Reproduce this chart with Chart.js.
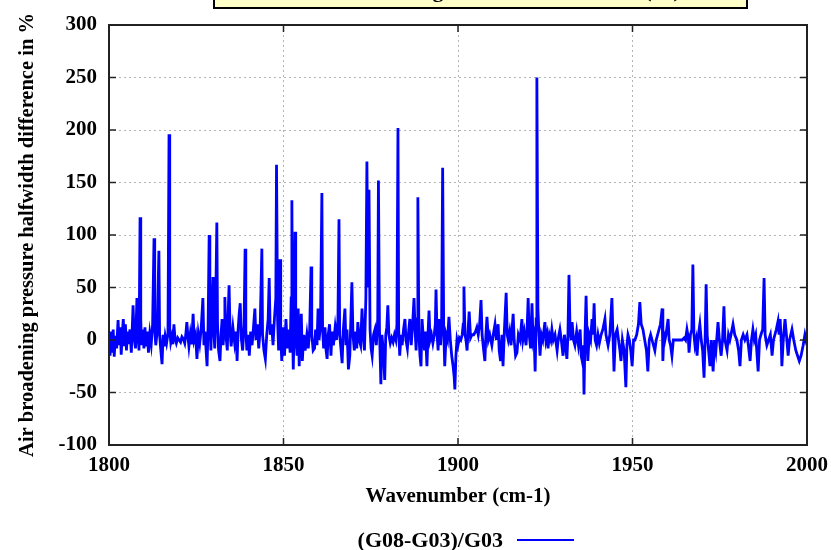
<!DOCTYPE html>
<html>
<head>
<meta charset="utf-8">
<script src="https://cdn.jsdelivr.net/npm/chart.js@4/dist/chart.umd.min.js"></script>
<style>
  html, body { margin: 0; padding: 0; background: #fff; }
  #wrap { width: 831px; height: 550px; position: relative; }
</style>
</head>
<body>
<div id="wrap"><canvas id="diffChart" width="831" height="550"></canvas></div>
<script>
// values (wavenumber cm-1 / difference %)
const wavenumber = [
  1800.0, 1800.3, 1800.6, 1800.9, 1801.2, 1801.5, 1801.8, 1802.2, 1802.6, 1802.9,
  1803.2, 1803.5, 1803.8, 1804.1, 1804.4, 1804.7, 1805.0, 1805.3, 1805.6, 1806.0,
  1806.4, 1806.9, 1807.2, 1807.6, 1808.0, 1808.3, 1808.6, 1808.9, 1809.1, 1809.3,
  1809.7, 1810.0, 1810.3, 1810.6, 1811.0, 1811.3, 1811.7, 1812.1, 1812.5, 1812.9,
  1813.1, 1813.4, 1813.8, 1814.3, 1814.5, 1814.8, 1815.2, 1815.5, 1815.8, 1816.1,
  1816.5, 1816.9, 1817.2, 1817.4, 1817.7, 1818.0, 1818.3, 1818.6, 1818.9, 1819.3,
  1819.7, 1820.1, 1820.5, 1820.9, 1821.3, 1821.7, 1822.0, 1822.3, 1822.6, 1822.9,
  1823.3, 1823.7, 1824.1, 1824.4, 1824.8, 1825.2, 1825.6, 1826.0, 1826.4, 1826.9,
  1827.2, 1827.5, 1828.1, 1828.4, 1828.7, 1828.9, 1829.2, 1829.5, 1829.8, 1830.0,
  1830.3, 1830.6, 1830.9, 1831.1, 1831.4, 1831.8, 1832.1, 1832.4, 1832.7, 1833.0,
  1833.2, 1833.5, 1833.9, 1834.2, 1834.4, 1834.7, 1835.0, 1835.5, 1836.0, 1836.4,
  1836.7, 1837.0, 1837.3, 1837.6, 1837.9, 1838.3, 1838.7, 1839.0, 1839.2, 1839.5,
  1839.9, 1840.2, 1840.6, 1841.0, 1841.4, 1841.8, 1842.1, 1842.5, 1842.9, 1843.3,
  1843.8, 1844.0, 1844.4, 1844.8, 1845.2, 1845.6, 1845.9, 1846.2, 1846.6, 1847.0,
  1847.4, 1847.8, 1848.0, 1848.3, 1848.6, 1849.0, 1849.2, 1849.5, 1849.9, 1850.3,
  1850.7, 1851.1, 1851.5, 1851.9, 1852.2, 1852.4, 1852.6, 1852.8, 1853.1, 1853.3,
  1853.5, 1853.9, 1854.2, 1854.5, 1854.8, 1855.1, 1855.4, 1855.8, 1856.2, 1856.7,
  1857.1, 1857.5, 1857.9, 1858.1, 1858.5, 1858.9, 1859.2, 1859.6, 1859.9, 1860.2,
  1860.6, 1861.0, 1861.2, 1861.5, 1861.9, 1862.2, 1862.5, 1862.8, 1863.2, 1863.6,
  1863.9, 1864.3, 1864.8, 1865.2, 1865.6, 1865.9, 1866.1, 1866.5, 1866.8, 1867.1,
  1867.6, 1867.9, 1868.2, 1868.6, 1869.0, 1869.3, 1869.6, 1869.9, 1870.3, 1870.7,
  1871.0, 1871.3, 1871.7, 1872.1, 1872.5, 1872.8, 1873.2, 1873.6, 1873.9, 1874.2,
  1874.5, 1874.8, 1875.1, 1875.4, 1875.8, 1876.2, 1876.6, 1877.0, 1877.2, 1877.5,
  1877.9, 1878.2, 1878.6, 1879.0, 1879.3, 1879.6, 1879.9, 1880.2, 1880.6, 1881.0,
  1881.4, 1881.8, 1882.2, 1882.5, 1882.8, 1883.0, 1883.3, 1883.7, 1884.0, 1884.4,
  1884.8, 1885.1, 1885.5, 1885.9, 1886.2, 1886.6, 1887.0, 1887.4, 1887.7, 1888.0,
  1888.3, 1888.5, 1888.8, 1889.1, 1889.4, 1889.7, 1890.0, 1890.4, 1890.7, 1891.1,
  1891.4, 1891.7, 1892.0, 1892.4, 1892.8, 1893.2, 1893.5, 1893.7, 1894.0, 1894.3,
  1894.6, 1895.0, 1895.3, 1895.6, 1895.9, 1896.2, 1896.6, 1897.0, 1897.4, 1897.8,
  1898.2, 1898.6, 1898.9, 1899.1, 1899.4, 1899.7, 1900.0, 1900.4, 1900.8, 1901.2,
  1901.5, 1901.7, 1902.0, 1902.3, 1902.6, 1902.9, 1903.2, 1903.6, 1904.0, 1904.5,
  1905.0, 1905.4, 1905.8, 1906.2, 1906.6, 1906.9, 1907.3, 1907.7, 1908.0, 1908.3,
  1908.7, 1909.1, 1909.7, 1910.1, 1910.6, 1911.0, 1911.5, 1911.8, 1912.2, 1912.6,
  1912.9, 1913.3, 1913.8, 1914.1, 1914.4, 1914.8, 1915.2, 1915.8, 1916.1, 1916.5,
  1916.9, 1917.3, 1917.8, 1918.3, 1918.6, 1919.0, 1919.5, 1919.8, 1920.1, 1920.4,
  1920.8, 1921.2, 1921.5, 1921.8, 1922.1, 1922.4, 1922.6, 1922.9, 1923.2, 1923.5,
  1923.9, 1924.3, 1924.9, 1925.2, 1925.5, 1925.8, 1926.2, 1926.6, 1926.9, 1927.3,
  1927.8, 1928.4, 1928.8, 1929.2, 1929.6, 1930.1, 1930.5, 1930.9, 1931.2, 1931.5,
  1931.8, 1932.1, 1932.4, 1932.7, 1933.1, 1933.5, 1934.0, 1934.5, 1935.0, 1935.3,
  1935.6, 1935.9, 1936.1, 1936.4, 1936.7, 1937.0, 1937.2, 1937.6, 1938.0, 1938.4,
  1938.7, 1939.0, 1939.3, 1939.7, 1940.1, 1940.5, 1941.0, 1941.5, 1942.1, 1942.4,
  1943.0, 1943.5, 1944.1, 1944.4, 1944.7, 1945.1, 1945.6, 1946.0, 1946.4, 1946.7,
  1947.1, 1947.6, 1948.1, 1948.4, 1948.7, 1949.1, 1949.5, 1949.9, 1950.3, 1950.7,
  1951.2, 1951.7, 1952.1, 1952.5, 1953.0, 1953.5, 1954.0, 1954.4, 1954.8, 1955.2,
  1955.6, 1956.0, 1956.4, 1956.8, 1957.2, 1957.6, 1958.0, 1958.5, 1958.7, 1959.0,
  1959.3, 1959.6, 1960.2, 1960.5, 1960.9, 1961.3, 1961.7, 1962.1, 1962.5, 1963.0,
  1963.6, 1964.2, 1964.8, 1965.2, 1965.6, 1966.0, 1966.2, 1966.6, 1967.0, 1967.3,
  1967.6, 1967.9, 1968.2, 1968.5, 1968.9, 1969.3, 1969.7, 1970.1, 1970.5, 1970.8,
  1971.1, 1971.4, 1971.8, 1972.2, 1972.6, 1973.1, 1973.5, 1973.9, 1974.5, 1974.9,
  1975.4, 1975.8, 1976.2, 1976.5, 1977.1, 1977.5, 1977.9, 1978.4, 1978.8, 1979.3,
  1979.9, 1980.4, 1980.8, 1981.2, 1981.7, 1982.2, 1982.8, 1983.2, 1983.7, 1984.1,
  1984.5, 1984.9, 1985.3, 1985.6, 1986.0, 1986.4, 1986.8, 1987.3, 1987.7, 1988.0,
  1988.5, 1989.0, 1989.5, 1990.0, 1990.4, 1990.8, 1991.2, 1991.7, 1992.0, 1992.3,
  1992.6, 1992.8, 1993.2, 1993.7, 1994.1, 1994.6, 1995.0, 1995.7, 1996.2, 1996.8,
  1997.3, 1997.8, 1998.3, 1998.9, 1999.4, 2000.0
];
const diffPct = [
  5, -15, 8, -12, 10, -16, 4, -8, 19, -5,
  12, -14, 6, 20, -6, 15, -10, 8, -4, 10,
  -12, 33, 2, -8, 40, 5, -10, 117, 20, -5,
  10, -8, 12, -6, 8, -12, 6, -4, 15, 97,
  10, -5, 8, 85, 5, -8, -23, 5, -6, 4,
  -3, 6, 196, 10, -2, 3, -4, 15, 2, -3,
  2, 0, -2, 3, 1, -3, 5, 17, 4, -6,
  6, -4, 25, 0, 5, -18, 6, -3, 10, 40,
  -5, 8, -25, 15, 100, 20, -10, 30, 60, 10,
  -8, 40, 112, 15, -10, -20, 5, 20, -5, 12,
  41, 5, -10, 30, 52, 8, -6, 12, -3, 8,
  -20, 10, 25, 35, 2, -10, 15, 87, 10, -10,
  5, -15, 8, -5, 12, 30, 0, 15, -8, 10,
  87, 5, -10, -18, 5, 20, 59, 5, 15, -5,
  20, 40, 167, 20, -10, 77, 5, -20, 12, -15,
  20, -8, 10, -12, 40, 133, 10, -28, 20, 103,
  5, -15, 30, -25, 10, 25, -20, 5, -10, 5,
  -8, 10, 70, 5, -10, -8, 10, -5, 30, 0,
  15, 140, 10, -8, 12, -10, -18, 5, 15, -15,
  8, -5, 12, 0, 20, 115, 5, -10, -22, 8,
  30, -5, 10, -28, -15, 20, 55, 5, -10, 8,
  -8, 17, 0, -5, 30, 5, -10, 40, 170, 50,
  143, 10, -8, -15, 5, 10, -5, 20, 152, 10,
  -42, 5, -10, -38, 5, 12, 33, 5, -3, 2,
  -2, 5, 0, 15, 202, 10, -15, 5, -5, 10,
  20, 0, -8, 10, 20, -5, 15, 40, 10, -10,
  20, 136, 5, -15, -25, 20, 5, -10, 8, -25,
  5, 28, 0, 5, -3, 5, 15, 48, 5, -10,
  20, -5, 15, 164, 10, -25, 5, 0, 22, 0,
  -15, -25, -35, -47, -15, 0, -5, 2, 0, 5,
  15, 51, 5, 0, -10, 10, 27, 2, 5, 5,
  8, 12, 5, 15, 38, 5, -8, -20, 5, 22,
  0, 5, -5, 5, 15, 0, 15, -10, -20, 5,
  -25, 10, 45, 5, 0, 8, -5, 25, 0, -15,
  -12, 5, 0, 20, 0, 8, -5, 10, 40, 5,
  -8, 35, 0, 5, -30, 20, 250, 30, 5, -15,
  5, 0, 17, 0, 5, -8, 5, 0, 10, 0,
  5, -10, 3, 10, 0, -15, 5, -8, -18, 5,
  62, 10, 0, 17, 0, -5, 8, -5, 10, -15,
  -20, -5, -52, 5, 42, 0, -20, 5, 0, 20,
  5, 35, 0, -5, 5, -3, 5, 10, 20, 5,
  -5, 5, 40, 5, -30, 5, 10, 0, -10, -20,
  0, -10, -45, -5, 5, 0, -10, -25, 0, 0,
  5, 15, 36, 15, 10, 0, -10, -30, 0, 5,
  0, -5, -10, 0, 5, 10, 15, 30, -20, 5,
  0, 5, 20, 0, -5, -15, 0, 0, 0, 0,
  0, 0, 2, 0, 10, 2, -12, 5, 10, 72,
  5, -5, 0, -15, 5, 15, 0, -10, -36, 0,
  53, 5, -10, -25, 0, -30, 0, -10, 17, 0,
  -15, 0, 32, 0, -10, 5, 0, 8, 15, 5,
  0, -10, -25, 0, 5, 0, 5, -5, -20, 0,
  10, 0, 5, -10, -30, 0, 5, 10, 59, 5,
  -5, 0, 5, -15, 0, 5, 10, 18, 5, 20,
  0, -25, 0, 20, 5, -15, 0, 10, 0, -10,
  -15, -20, -15, -5, 5, -5
];
const xTicks = [1800, 1850, 1900, 1950, 2000];
const yTicks = [-100, -50, 0, 50, 100, 150, 200, 250, 300];
const seriesName = '(G08-G03)/G03';
const titleText = 'Air broadening halfwidth difference (%)';

const points = wavenumber.map((w, i) => ({ x: w, y: diffPct[i] }));
const serif = '"Liberation Serif", "Times New Roman", serif';

// frame, inward tick marks, clipped title box and legend
const decorations = {
  id: 'decorations',
  afterDraw(chart) {
    const { ctx, chartArea: a, scales } = chart;
    ctx.save();
    // title box, cut by top of page
    ctx.fillStyle = '#ffffc8';
    ctx.fillRect(214, -20, 533, 28);
    ctx.fillStyle = '#000';
    ctx.font = 'bold 22px ' + serif;
    ctx.textAlign = 'center';
    ctx.textBaseline = 'alphabetic';
    ctx.fillText(titleText, 490, -3);
    ctx.strokeStyle = '#000';
    ctx.lineWidth = 2;
    ctx.strokeRect(214, -20, 533, 28);

    // frame
    ctx.strokeStyle = '#222';
    ctx.lineWidth = 2;
    ctx.strokeRect(a.left, a.top, a.right - a.left, a.bottom - a.top);
    ctx.lineWidth = 1.5;
    ctx.beginPath();
    xTicks.forEach(v => {
      const x = scales.x.getPixelForValue(v);
      ctx.moveTo(x, a.bottom); ctx.lineTo(x, a.bottom - 7);
      ctx.moveTo(x, a.top); ctx.lineTo(x, a.top + 7);
    });
    yTicks.forEach(v => {
      const y = scales.y.getPixelForValue(v);
      ctx.moveTo(a.left, y); ctx.lineTo(a.left + 7, y);
      ctx.moveTo(a.right, y); ctx.lineTo(a.right - 7, y);
    });
    ctx.stroke();

    // legend
    ctx.font = 'bold 22px ' + serif;
    ctx.textAlign = 'right';
    ctx.textBaseline = 'middle';
    ctx.fillStyle = '#000';
    ctx.fillText(seriesName, 503, 541);
    ctx.strokeStyle = '#0000ff';
    ctx.lineWidth = 2;
    ctx.beginPath();
    ctx.moveTo(517, 540); ctx.lineTo(574, 540);
    ctx.stroke();
    ctx.restore();
  }
};

new Chart(document.getElementById('diffChart'), {
  type: 'line',
  data: {
    datasets: [{
      label: seriesName,
      data: points,
      borderColor: '#0000ff',
      borderWidth: 2.8,
      pointRadius: 0,
      tension: 0,
      fill: false,
    }],
  },
  options: {
    responsive: false,
    animation: false,
    layout: { padding: { top: 25, right: 24, bottom: 35, left: 0 } },
    plugins: {
      legend: { display: false },
      tooltip: { enabled: false },
    },
    scales: {
      x: {
        type: 'linear',
        min: 1800,
        max: 2000,
        afterFit: s => { s.height = 70; s.paddingRight = 0; s.paddingLeft = 0; },
        afterBuildTicks: s => { s.ticks = xTicks.map(v => ({ value: v })); },
        ticks: {
          color: '#000',
          font: { family: serif, size: 21, weight: 'bold' },
          padding: 8,
          maxRotation: 0,
          callback: v => String(v),
        },
        grid: { color: '#b4b4b4', drawTicks: false, lineWidth: 1 },
        border: { display: false, dash: [2, 3] },
        title: {
          display: true,
          text: 'Wavenumber (cm-1)',
          color: '#000',
          font: { family: serif, size: 21, weight: 'bold' },
          padding: { top: 0, bottom: 6 },
        },
      },
      y: {
        min: -100,
        max: 300,
        afterFit: s => { s.width = 109; },
        afterBuildTicks: s => { s.ticks = yTicks.map(v => ({ value: v })); },
        ticks: {
          color: '#000',
          font: { family: serif, size: 21, weight: 'bold' },
          padding: 12,
          callback: v => String(v),
        },
        grid: { color: '#b4b4b4', drawTicks: false, lineWidth: 1 },
        border: { display: false, dash: [2, 3] },
        title: {
          display: true,
          text: 'Air broadening pressure halfwidth difference in %',
          color: '#000',
          font: { family: serif, size: 20.5, weight: 'bold' },
          padding: { top: 15, bottom: 0 },
        },
      },
    },
  },
  plugins: [decorations],
});
</script>
</body>
</html>
